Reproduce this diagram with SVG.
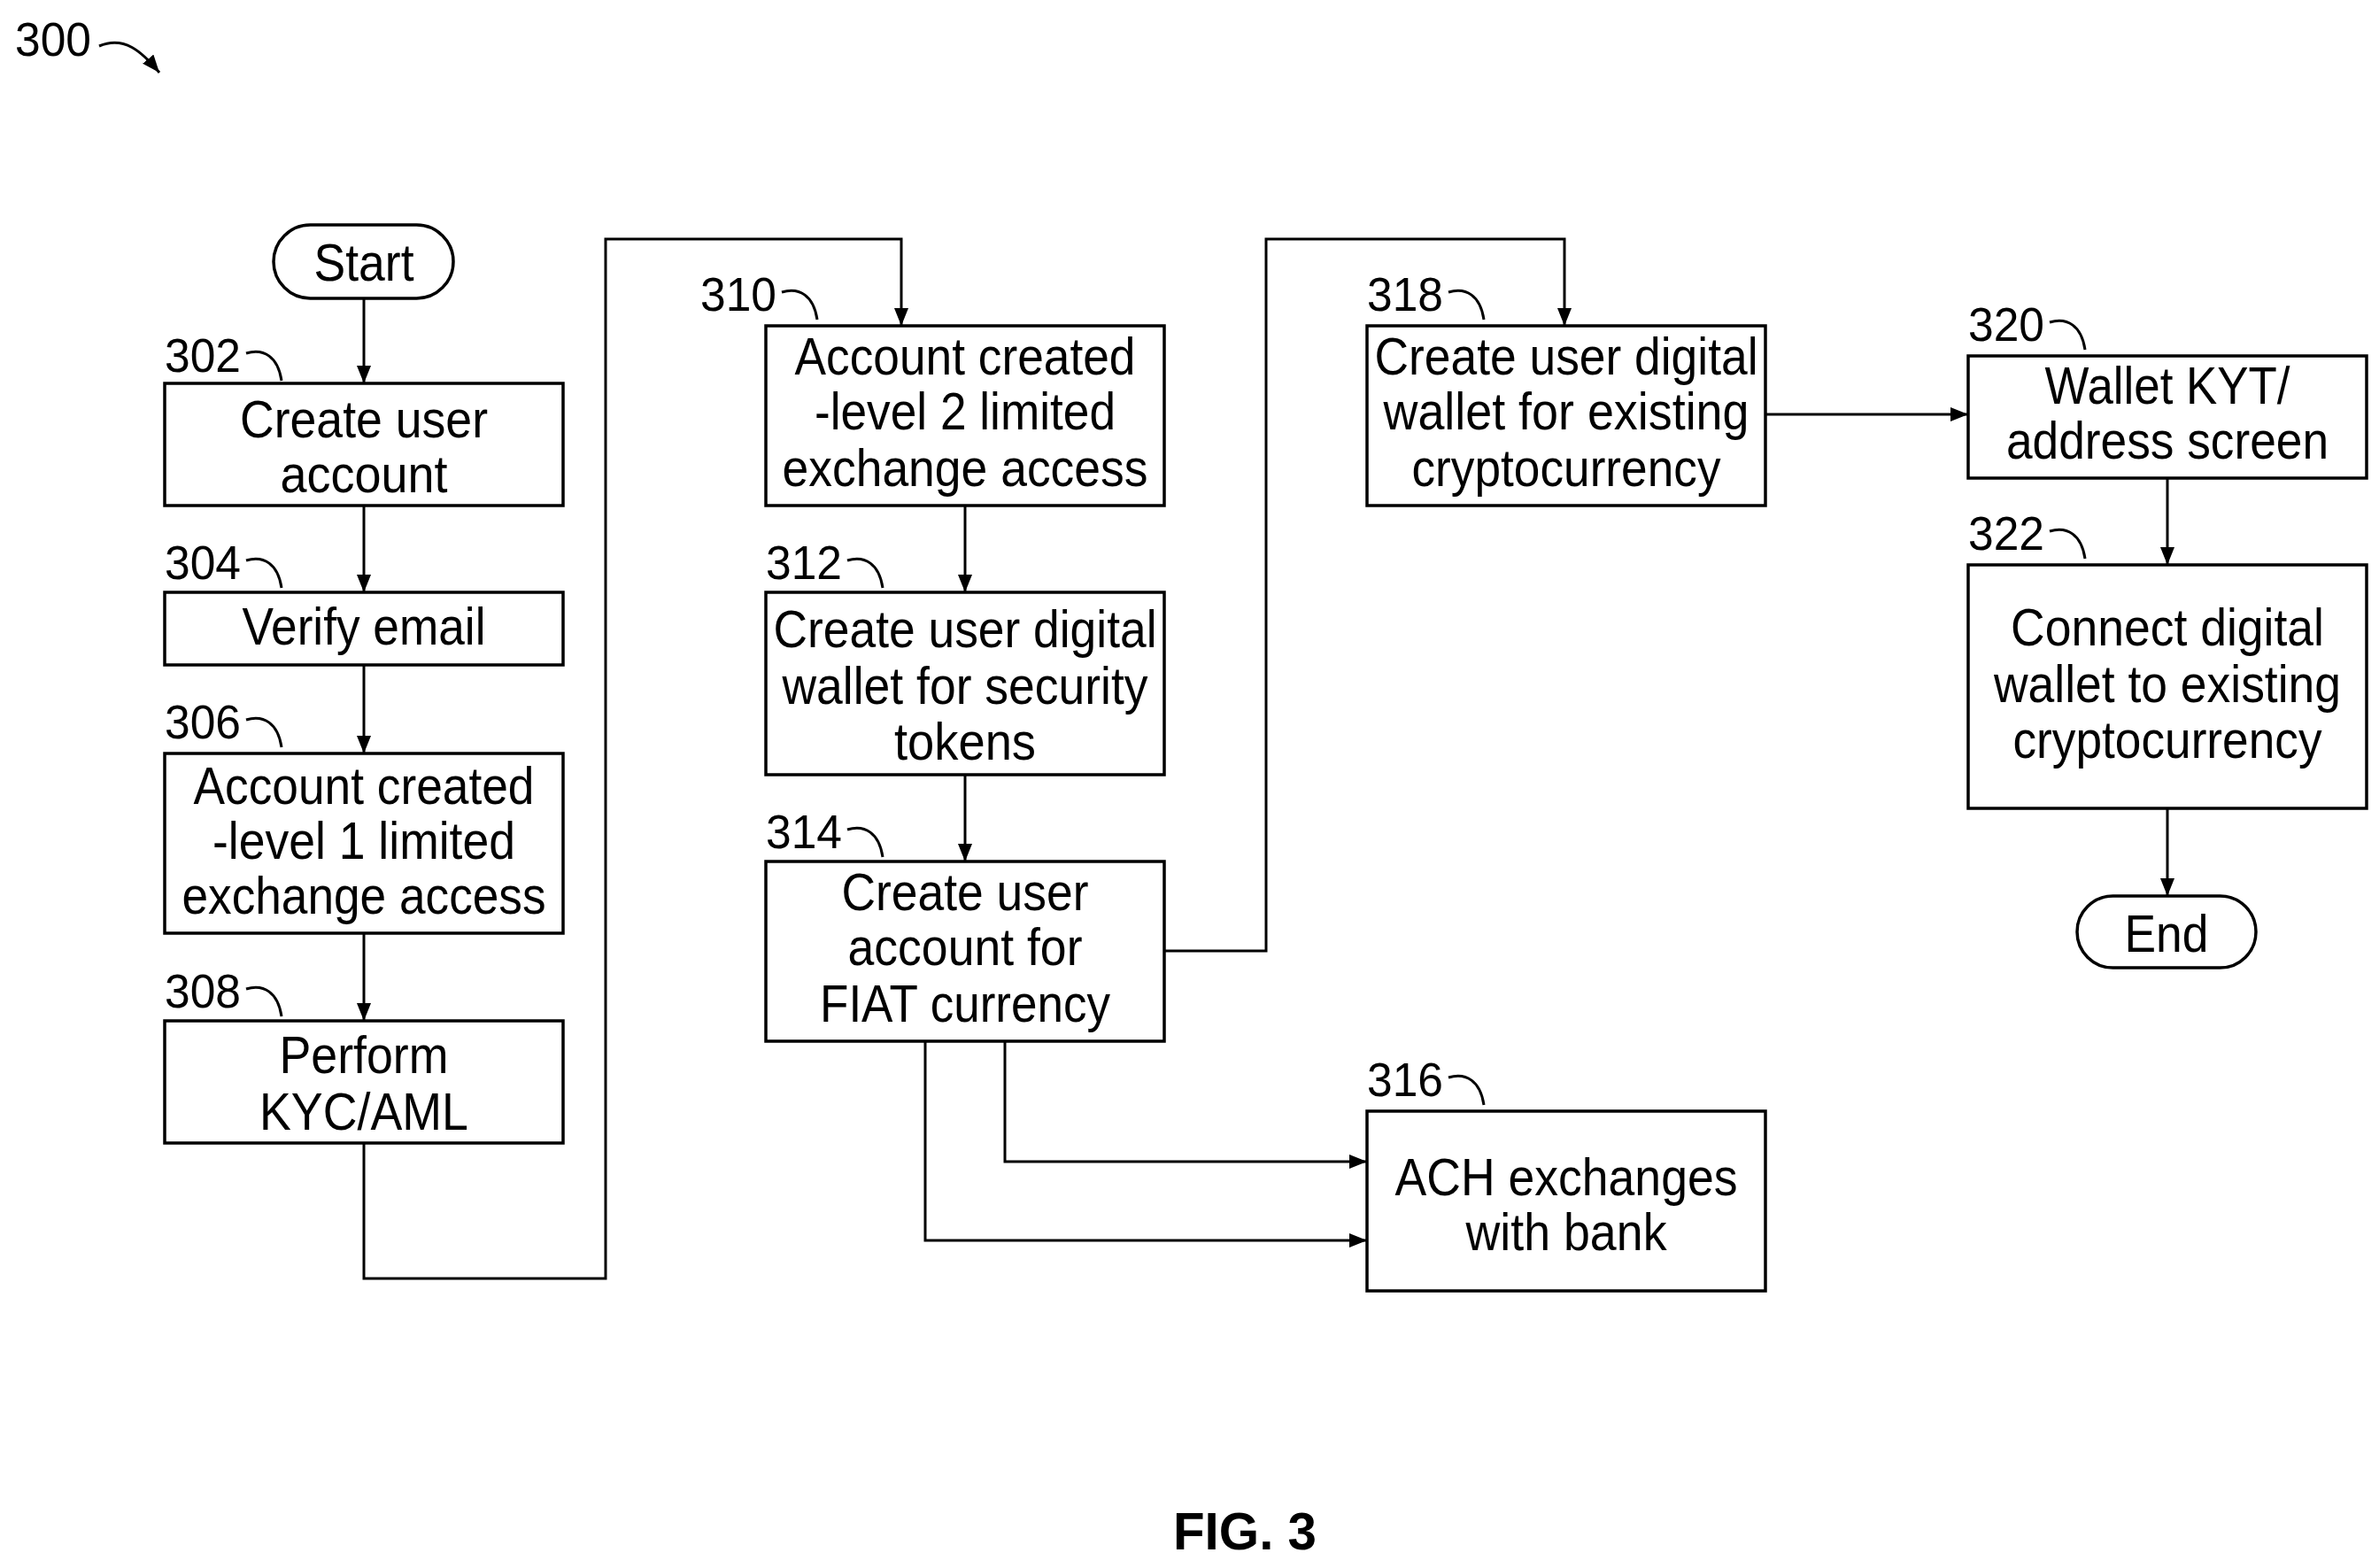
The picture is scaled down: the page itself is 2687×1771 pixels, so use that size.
<svg xmlns="http://www.w3.org/2000/svg" width="2687" height="1771" viewBox="0 0 2687 1771">
<style>
.b{fill:#fff;stroke:#000;stroke-width:3.5}
.t{font-family:"Liberation Sans",Arial,sans-serif;font-size:60px;text-anchor:middle;fill:#000}
.l{font-family:"Liberation Sans",Arial,sans-serif;font-size:54px;fill:#000}
.c{fill:none;stroke:#000;stroke-width:3}
.w{fill:none;stroke:#000;stroke-width:3;marker-end:url(#a)}
</style>
<defs><marker id="a" markerWidth="10" markerHeight="8" refX="10" refY="4" orient="auto" markerUnits="userSpaceOnUse" viewBox="0 0 10 8"><path d="M0,0L10,4L0,8z" fill="#000"/></marker>
<marker id="a2" markerWidth="20" markerHeight="16" refX="20" refY="8" orient="auto" markerUnits="userSpaceOnUse" viewBox="0 0 20 16"><path d="M0,0L20,8L0,16z" fill="#000"/></marker></defs>
<rect width="2687" height="1771" fill="#fff"/>
<g id="fig"><text class="l" x="17" y="63" textLength="86" lengthAdjust="spacingAndGlyphs">300</text><path d="M112,52 C140,40 160,58 180,82" class="c" marker-end="url(#a2)"/></g>
<g id="connectors">
<path class="c" style="marker-end:url(#a2)" d="M411,337V433"/>
<path class="c" style="marker-end:url(#a2)" d="M411,571V669"/>
<path class="c" style="marker-end:url(#a2)" d="M411,751V851"/>
<path class="c" style="marker-end:url(#a2)" d="M411,1054V1153"/>
<path class="c" style="marker-end:url(#a2)" d="M411,1291V1444H684V270H1018V368"/>
<path class="c" style="marker-end:url(#a2)" d="M1090,571V669"/>
<path class="c" style="marker-end:url(#a2)" d="M1090,875V973"/>
<path class="c" style="marker-end:url(#a2)" d="M1315,1074H1430V270H1767V368"/>
<path class="c" style="marker-end:url(#a2)" d="M1135,1176V1312H1544"/>
<path class="c" style="marker-end:url(#a2)" d="M1045,1176V1401H1544"/>
<path class="c" style="marker-end:url(#a2)" d="M1994,468H2223"/>
<path class="c" style="marker-end:url(#a2)" d="M2448,540V638"/>
<path class="c" style="marker-end:url(#a2)" d="M2448,913V1012"/>
</g>
<g id="start"><rect class="b" x="309" y="254" width="203" height="83" rx="41.5"/><text class="t" x="411" y="317" textLength="113" lengthAdjust="spacingAndGlyphs">Start</text></g>
<g id="n302"><rect class="b" x="186" y="433" width="450" height="138"/><text class="t" x="411" y="494" textLength="280" lengthAdjust="spacingAndGlyphs">Create user</text><text class="t" x="411" y="556" textLength="189" lengthAdjust="spacingAndGlyphs">account</text>
<text class="l" x="186" y="420" textLength="86" lengthAdjust="spacingAndGlyphs">302</text><path class="c" d="M278,399c20,-6 36,4 40,31"/></g>
<g id="n304"><rect class="b" x="186" y="669" width="450" height="82"/><text class="t" x="411" y="728" textLength="275" lengthAdjust="spacingAndGlyphs">Verify email</text>
<text class="l" x="186" y="654" textLength="86" lengthAdjust="spacingAndGlyphs">304</text><path class="c" d="M278,633c20,-6 36,4 40,31"/></g>
<g id="n306"><rect class="b" x="186" y="851" width="450" height="203"/><text class="t" x="411" y="908" textLength="385" lengthAdjust="spacingAndGlyphs">Account created</text><text class="t" x="411" y="970" textLength="342" lengthAdjust="spacingAndGlyphs">-level 1 limited</text><text class="t" x="411" y="1032" textLength="411" lengthAdjust="spacingAndGlyphs">exchange access</text>
<text class="l" x="186" y="834" textLength="86" lengthAdjust="spacingAndGlyphs">306</text><path class="c" d="M278,813c20,-6 36,4 40,31"/></g>
<g id="n308"><rect class="b" x="186" y="1153" width="450" height="138"/><text class="t" x="411" y="1212" textLength="191" lengthAdjust="spacingAndGlyphs">Perform</text><text class="t" x="411" y="1276" textLength="236" lengthAdjust="spacingAndGlyphs">KYC/AML</text>
<text class="l" x="186" y="1138" textLength="86" lengthAdjust="spacingAndGlyphs">308</text><path class="c" d="M278,1117c20,-6 36,4 40,31"/></g>
<g id="n310"><rect class="b" x="865" y="368" width="450" height="203"/><text class="t" x="1090" y="423" textLength="385" lengthAdjust="spacingAndGlyphs">Account created</text><text class="t" x="1090" y="485" textLength="340" lengthAdjust="spacingAndGlyphs">-level 2 limited</text><text class="t" x="1090" y="549" textLength="413" lengthAdjust="spacingAndGlyphs">exchange access</text>
<text class="l" x="791" y="351" textLength="86" lengthAdjust="spacingAndGlyphs">310</text><path class="c" d="M883,330c20,-6 36,4 40,31"/></g>
<g id="n312"><rect class="b" x="865" y="669" width="450" height="206"/><text class="t" x="1090" y="731" textLength="433" lengthAdjust="spacingAndGlyphs">Create user digital</text><text class="t" x="1090" y="795" textLength="413" lengthAdjust="spacingAndGlyphs">wallet for security</text><text class="t" x="1090" y="858" textLength="160" lengthAdjust="spacingAndGlyphs">tokens</text>
<text class="l" x="865" y="654" textLength="86" lengthAdjust="spacingAndGlyphs">312</text><path class="c" d="M957,633c20,-6 36,4 40,31"/></g>
<g id="n314"><rect class="b" x="865" y="973" width="450" height="203"/><text class="t" x="1090" y="1028" textLength="279" lengthAdjust="spacingAndGlyphs">Create user</text><text class="t" x="1090" y="1090" textLength="265" lengthAdjust="spacingAndGlyphs">account for</text><text class="t" x="1090" y="1154" textLength="328" lengthAdjust="spacingAndGlyphs">FIAT currency</text>
<text class="l" x="865" y="958" textLength="86" lengthAdjust="spacingAndGlyphs">314</text><path class="c" d="M957,937c20,-6 36,4 40,31"/></g>
<g id="n316"><rect class="b" x="1544" y="1255" width="450" height="203"/><text class="t" x="1769" y="1350" textLength="387" lengthAdjust="spacingAndGlyphs">ACH exchanges</text><text class="t" x="1769" y="1412" textLength="227" lengthAdjust="spacingAndGlyphs">with bank</text>
<text class="l" x="1544" y="1238" textLength="86" lengthAdjust="spacingAndGlyphs">316</text><path class="c" d="M1636,1217c20,-6 36,4 40,31"/></g>
<g id="n318"><rect class="b" x="1544" y="368" width="450" height="203"/><text class="t" x="1769" y="423" textLength="433" lengthAdjust="spacingAndGlyphs">Create user digital</text><text class="t" x="1769" y="485" textLength="413" lengthAdjust="spacingAndGlyphs">wallet for existing</text><text class="t" x="1769" y="549" textLength="349" lengthAdjust="spacingAndGlyphs">cryptocurrency</text>
<text class="l" x="1544" y="351" textLength="86" lengthAdjust="spacingAndGlyphs">318</text><path class="c" d="M1636,330c20,-6 36,4 40,31"/></g>
<g id="n320"><rect class="b" x="2223" y="402" width="450" height="138"/><text class="t" x="2448" y="456" textLength="277" lengthAdjust="spacingAndGlyphs">Wallet KYT/</text><text class="t" x="2448" y="518" textLength="364" lengthAdjust="spacingAndGlyphs">address screen</text>
<text class="l" x="2223" y="385" textLength="86" lengthAdjust="spacingAndGlyphs">320</text><path class="c" d="M2315,364c20,-6 36,4 40,31"/></g>
<g id="n322"><rect class="b" x="2223" y="638" width="450" height="275"/><text class="t" x="2448" y="729" textLength="354" lengthAdjust="spacingAndGlyphs">Connect digital</text><text class="t" x="2448" y="793" textLength="392" lengthAdjust="spacingAndGlyphs">wallet to existing</text><text class="t" x="2448" y="856" textLength="349" lengthAdjust="spacingAndGlyphs">cryptocurrency</text>
<text class="l" x="2223" y="621" textLength="86" lengthAdjust="spacingAndGlyphs">322</text><path class="c" d="M2315,600c20,-6 36,4 40,31"/></g>
<g id="end"><rect class="b" x="2346" y="1012" width="202" height="81" rx="40.5"/><text class="t" x="2447" y="1075" textLength="95" lengthAdjust="spacingAndGlyphs">End</text></g>
<text x="1406" y="1750" font-family="Liberation Sans,Arial,sans-serif" font-weight="bold" font-size="60" text-anchor="middle" textLength="162" lengthAdjust="spacingAndGlyphs">FIG. 3</text>
</svg>
